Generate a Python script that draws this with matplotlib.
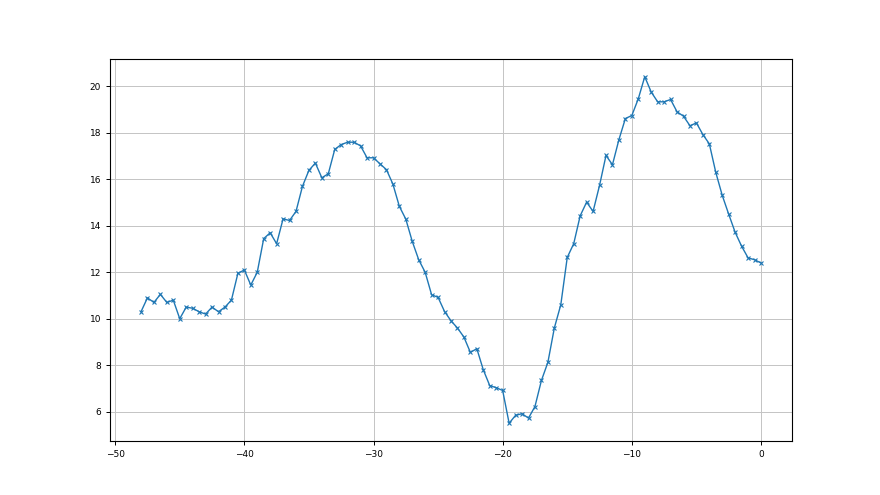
import numpy as np
import matplotlib
matplotlib.use('Agg')
from matplotlib import pyplot as plt

# x runs from -48 to 0 in steps of 0.5
x = np.arange(-48, 0.01, 0.5)
y = [10.3, 10.9, 10.7, 11.05, 10.7, 10.8, 10.0, 10.5, 10.45, 10.3,
     10.2, 10.5, 10.3, 10.5, 10.8, 11.95, 12.1, 11.45, 12.0, 13.45,
     13.7, 13.23, 14.3, 14.23, 14.62, 15.7, 16.39, 16.7, 16.07, 16.24,
     17.29, 17.5, 17.6, 17.6, 17.44, 16.93, 16.93, 16.67, 16.42, 15.8,
     14.84, 14.29, 13.33, 12.54, 12.0, 11.03, 10.92, 10.31, 9.91, 9.6,
     9.21, 8.55, 8.71, 7.8, 7.12, 7.03, 6.91, 5.5, 5.84, 5.91,
     5.72, 6.22, 7.34, 8.12, 9.6, 10.6, 12.64, 13.23, 14.43, 15.02,
     14.62, 15.74, 17.03, 16.63, 17.71, 18.62, 18.75, 19.47, 20.42, 19.76,
     19.34, 19.34, 19.44, 18.91, 18.72, 18.31, 18.43, 17.93, 17.53, 16.3,
     15.31, 14.5, 13.72, 13.12, 12.62, 12.54, 12.4]

plt.figure(figsize=(8.8, 4.95), dpi=100)
plt.plot(x, y, marker='x', markersize=3.5, markeredgewidth=0.8,
         linewidth=1.0, color='#1f77b4')
plt.grid(True, color='#c4c4c4', linewidth=0.7)
plt.tick_params(labelsize=6.5, width=0.7, length=3)
for s in plt.gca().spines.values():
    s.set_linewidth(0.8)
plt.savefig('out.png', dpi=100)
